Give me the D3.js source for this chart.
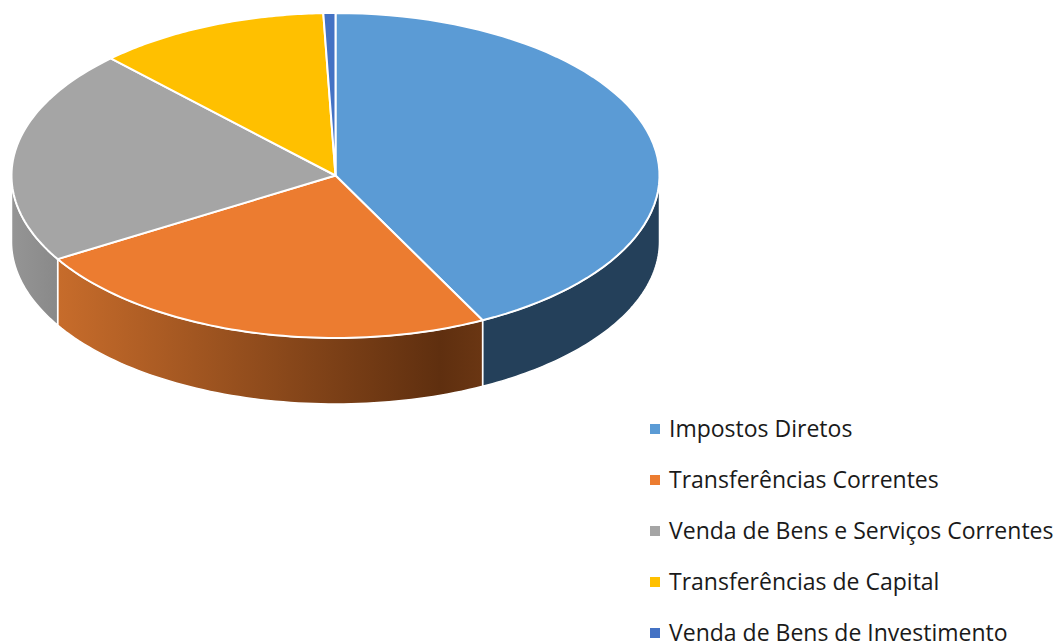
<!DOCTYPE html>
<html>
<head>
<meta charset="utf-8">
<script src="https://cdn.jsdelivr.net/npm/d3@7"></script>
<style>
  html, body { margin: 0; padding: 0; background: #fff; overflow: hidden; }
  text { font-family: "Open Sans", "Noto Sans", sans-serif; }
</style>
</head>
<body>
<svg id="chart" width="1059" height="644"></svg>
<script>
var categories = ['Impostos Diretos', 'Transferências Correntes', 'Venda de Bens e Serviços Correntes', 'Transferências de Capital', 'Venda de Bens de Investimento'];
var values = [42.5, 23.9, 21.4, 11.6, 0.6];
var colors = ['#5b9bd5', '#ec7c30', '#a5a5a5', '#ffc000', '#4472c4'];
// side wall colours in page x order, only the three front slices have a wall
var sideStops = [
  [[0, '#24405a'], [1, '#24405a']],
  [[0, '#c76c2b'], [0.9, '#5f2f0f'], [1, '#6a3613']],
  [[0, '#959595'], [1, '#898989']]
];

var svg = d3.select('#chart');
var cx = 335.5, cy = 175.5, rx = 324, ry = 162.5, depth = 66;

var pie = d3.pie().sort(null).value(function(d) { return d; });
var arcs = pie(values);

function px(a) { return cx + rx * Math.sin(a); }
function py(a) { return cy - ry * Math.cos(a); }

function topPath(d) {
  var steps = d3.range(0, 65).map(function(i) {
    return d.startAngle + (d.endAngle - d.startAngle) * i / 64;
  });
  return 'M' + cx + ',' + cy + steps.map(function(a) { return 'L' + px(a) + ',' + py(a); }).join('') + 'Z';
}

// outer wall only exists on the front half of the ellipse
function sidePath(d) {
  var a0 = Math.max(d.startAngle, Math.PI / 2);
  var a1 = Math.min(d.endAngle, Math.PI * 1.5);
  if (a1 <= a0) return null;
  var steps = d3.range(0, 65).map(function(i) { return a0 + (a1 - a0) * i / 64; });
  var front = steps.map(function(a) { return px(a) + ',' + py(a); });
  var back = steps.slice().reverse().map(function(a) { return px(a) + ',' + (py(a) + depth); });
  return 'M' + front.join('L') + 'L' + back.join('L') + 'Z';
}

var defs = svg.append('defs');
sideStops.forEach(function(s, i) {
  var g = defs.append('linearGradient').attr('id', 'side' + i).attr('x1', '0%').attr('x2', '100%');
  s.forEach(function(stop) {
    g.append('stop').attr('offset', stop[0]).attr('stop-color', stop[1]);
  });
});

var sides = svg.append('g');
arcs.slice(0, 3).forEach(function(d, i) {
  var p = sidePath(d);
  if (p) sides.append('path').attr('d', p).attr('fill', 'url(#side' + i + ')').attr('stroke', '#fff').attr('stroke-width', 1.5);
});

svg.append('g').selectAll('path').data(arcs).enter().append('path')
  .attr('d', topPath)
  .attr('fill', function(d, i) { return colors[i]; })
  .attr('stroke', '#fff').attr('stroke-width', 2).attr('stroke-linejoin', 'round');

var legendY = d3.scalePoint().domain(categories).range([429, 633]);
var legend = svg.append('g').selectAll('g').data(categories).enter().append('g')
  .attr('transform', function(d) { return 'translate(0,' + legendY(d) + ')'; });
legend.append('rect').attr('x', 650).attr('y', -5).attr('width', 10).attr('height', 10)
  .attr('fill', function(d, i) { return colors[i]; });
legend.append('text').attr('x', 669).attr('y', 8).attr('font-size', 23).attr('fill', '#1a1a1a')
  .text(function(d) { return d; });
</script>
</body>
</html>
